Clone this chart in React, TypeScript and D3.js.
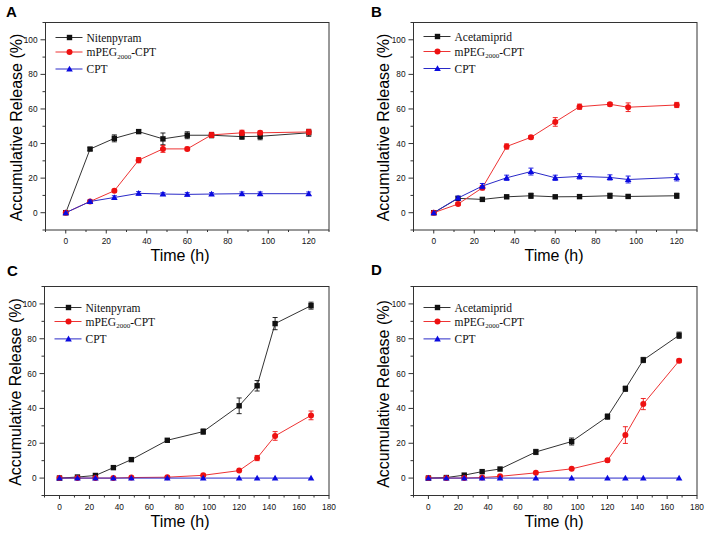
import React from "react";
import * as d3 from "d3";

// ---------- DATA ----------
const timesAB = [0, 12, 24, 36, 48, 60, 72, 87, 96, 120];
const timesCD = [0, 12, 24, 36, 48, 72, 96, 120, 132, 144, 168];

const nitenA = [0, 36.8, 43, 46.9, 42.7, 44.8, 44.8, 44, 44.2, 46.2];
const nitenAErr = [0, 0.8, 2, 1, 3.4, 2, 1.5, 1.5, 2, 2];
const mpegA = [0, 6.5, 12.7, 30.4, 36.9, 36.9, 45, 46.2, 46.2, 46.7];
const mpegAErr = [0, 0.5, 0.8, 1.5, 2, 1, 1.5, 1.5, 1, 1.5];
const cptA = [0, 6.5, 8.8, 11.2, 10.8, 10.6, 10.8, 11, 11, 11];
const cptAErr = [0, 0.8, 1, 1, 0.8, 1, 0.8, 1, 1, 1];

const acetB = [0, 8.3, 7.7, 9.2, 9.8, 9.2, 9.3, 9.8, 9.4, 9.8];
const acetBErr = [0, 0.5, 0.5, 0.8, 1.5, 0.8, 0.8, 1.5, 0.8, 1.5];
const mpegB = [0, 5, 14.4, 38.3, 43.6, 52.5, 61.3, 62.7, 61, 62.3];
const mpegBErr = [0, 0.8, 1.2, 1.5, 1, 2.5, 1.5, 1, 2.5, 1.5];
const cptB = [0, 8.5, 15.4, 20.2, 23.8, 20.2, 21, 20.4, 19.2, 20.4];
const cptBErr = [0, 1, 1.5, 1.5, 2, 1.5, 1.5, 1.5, 2, 2];

const nitenC = [0, 0.6, 1.5, 6, 10.6, 21.7, 26.7, 41.5, 53, 88.7, 99];
const nitenCErr = [0, 0.3, 0.5, 0.5, 0.5, 0.5, 1.5, 4.5, 3, 3.5, 2];
const mpegC = [0, 0, 0, 0, 0.3, 0.5, 1.6, 4.3, 11.5, 24.2, 36];
const mpegCErr = [0, 0, 0, 0, 0.3, 0.3, 0.5, 0.5, 1.5, 2.5, 2.5];
const cptC = [0, 0, 0, 0, 0, 0, 0, 0, 0, 0, 0];
const cptCErr = [0, 0, 0, 0, 0, 0, 0, 0, 0, 0, 0];

const acetD = [0, 0.3, 1.7, 3.7, 5.2, 15, 21, 35.3, 51.3, 67.8, 82];
const acetDErr = [0, 0.3, 0.5, 0.5, 0.5, 1.5, 2, 1.5, 1.5, 1.5, 1.8];
const mpegD = [0, 0, 0, 0.3, 1, 3, 5.3, 10.2, 24.7, 42.5, 67.3];
const mpegDErr = [0, 0, 0, 0, 0.3, 0.5, 0.5, 1, 4.8, 3.2, 1];
const cptD = [0, 0, 0, 0, 0, 0, 0, 0, 0, 0, 0];
const cptDErr = [0, 0, 0, 0, 0, 0, 0, 0, 0, 0, 0];

const xTicksAB = [0, 20, 40, 60, 80, 100, 120];
const xTicksCD = [0, 20, 40, 60, 80, 100, 120, 140, 160, 180];
const yTicks = [0, 20, 40, 60, 80, 100];
const panelLetters = ["A", "B", "C", "D"];
const xTitle = "Time (h)";
const yTitle = "Accumulative Release (%)";

// ---------- STYLE ----------
const BLACK = "#111111";
const BLACK_LINE = "#333333";
const RED = "#ee1111";
const RED_LINE = "#ee3333";
const BLUE = "#0a0ae0";
const BLUE_LINE = "#2a2ac8";

type Series = { name: string; sub?: boolean; vals: number[]; errs: number[]; kind: "sq" | "ci" | "tri"; color: string; line: string };

type PanelCfg = {
  letter: string;
  left: number; right: number; top: number; bottom: number;
  xMax: number; xTicks: number[]; times: number[];
  series: Series[];
  legendRows: number[];
  letterX: number; letterY: number;
  xTitleX: number; yTitleX: number; yTitleY: number;
};

function mkSeries(first: string, a: number[], ae: number[], b: number[], be: number[], c: number[], ce: number[]): Series[] {
  return [
    { name: first, vals: a, errs: ae, kind: "sq", color: BLACK, line: BLACK_LINE },
    { name: "mPEG", sub: true, vals: b, errs: be, kind: "ci", color: RED, line: RED_LINE },
    { name: "CPT", vals: c, errs: ce, kind: "tri", color: BLUE, line: BLUE_LINE },
  ];
}

const panels: PanelCfg[] = [
  {
    letter: panelLetters[0], left: 45.5, right: 329, top: 22.5, bottom: 230, xMax: 130, xTicks: xTicksAB, times: timesAB,
    series: mkSeries("Nitenpyram", nitenA, nitenAErr, mpegA, mpegAErr, cptA, cptAErr),
    legendRows: [15, 29.5, 46.5], letterX: 6, letterY: 17, xTitleX: 180, yTitleX: 21.5, yTitleY: 127.5,
  },
  {
    letter: panelLetters[1], left: 413.5, right: 697, top: 22.5, bottom: 230, xMax: 130, xTicks: xTicksAB, times: timesAB,
    series: mkSeries("Acetamiprid", acetB, acetBErr, mpegB, mpegBErr, cptB, cptBErr),
    legendRows: [14, 29, 46], letterX: 371, letterY: 17, xTitleX: 554, yTitleX: 389, yTitleY: 127.5,
  },
  {
    letter: panelLetters[2], left: 44.5, right: 329, top: 286.5, bottom: 495.5, xMax: 180, xTicks: xTicksCD, times: timesCD,
    series: mkSeries("Nitenpyram", nitenC, nitenCErr, mpegC, mpegCErr, cptC, cptCErr),
    legendRows: [21, 35, 52.4], letterX: 7, letterY: 276, xTitleX: 180, yTitleX: 20.5, yTitleY: 392,
  },
  {
    letter: panelLetters[3], left: 413.5, right: 697, top: 286.5, bottom: 495.5, xMax: 180, xTicks: xTicksCD, times: timesCD,
    series: mkSeries("Acetamiprid", acetD, acetDErr, mpegD, mpegDErr, cptD, cptDErr),
    legendRows: [21, 35, 52.4], letterX: 371, letterY: 275, xTitleX: 554, yTitleX: 389, yTitleY: 394,
  },
];

function Marker({ kind, x, y, color }: { kind: string; x: number; y: number; color: string }) {
  if (kind === "sq") return <rect x={x - 2.7} y={y - 2.7} width={5.4} height={5.4} fill={color} />;
  if (kind === "ci") return <circle cx={x} cy={y} r={3} fill={color} />;
  const s = 3.3;
  return <path d={`M${x},${y - s}L${x + s},${y + s * 0.75}L${x - s},${y + s * 0.75}Z`} fill={color} />;
}

function Panel({ p }: { p: PanelCfg }) {
  const x = d3.scaleLinear().domain([-10, p.xMax]).range([p.left, p.right]);
  const y = d3.scaleLinear().domain([-10, 110]).range([p.bottom, p.top]);
  const xMinor = d3.range(-10, p.xMax + 0.1, 10);
  const yMinor = d3.range(-10, 110.1, 10);
  const line = d3.line<[number, number]>().x((d) => x(d[0])).y((d) => y(d[1]));
  const tickFont = "'Liberation Sans', Arial, sans-serif";
  return (
    <g>
      <text x={p.letterX} y={p.letterY} fontFamily={tickFont} fontWeight="bold" fontSize={15} fill="#000">{p.letter}</text>
      {/* series */}
      {p.series.map((s, si) => {
        const pts: [number, number][] = p.times.map((t, i) => [t, s.vals[i]]);
        return (
          <g key={si}>
            <path d={line(pts) || ""} fill="none" stroke={s.line} strokeWidth={1} />
            {pts.map((d, i) =>
              s.errs[i] > 0.6 ? (
                <g key={"e" + i} stroke={s.color} strokeWidth={0.9}>
                  <line x1={x(d[0])} x2={x(d[0])} y1={y(d[1] - s.errs[i])} y2={y(d[1] + s.errs[i])} />
                  <line x1={x(d[0]) - 2.5} x2={x(d[0]) + 2.5} y1={y(d[1] - s.errs[i])} y2={y(d[1] - s.errs[i])} />
                  <line x1={x(d[0]) - 2.5} x2={x(d[0]) + 2.5} y1={y(d[1] + s.errs[i])} y2={y(d[1] + s.errs[i])} />
                </g>
              ) : null
            )}
            {pts.map((d, i) => <Marker key={"m" + i} kind={s.kind} x={x(d[0])} y={y(d[1])} color={s.color} />)}
          </g>
        );
      })}
      {/* frame */}
      <rect x={p.left} y={p.top} width={p.right - p.left} height={p.bottom - p.top} fill="none" stroke="#333" strokeWidth={1} />
      {/* x ticks */}
      {xMinor.map((v) => {
        const major = v >= 0 && v % 20 === 0;
        return <line key={"xt" + v} x1={x(v)} x2={x(v)} y1={p.bottom} y2={p.bottom + (major ? 3.5 : 2)} stroke="#333" strokeWidth={1} />;
      })}
      {p.xTicks.map((v) => (
        <text key={"xl" + v} x={x(v)} y={p.bottom + 14} textAnchor="middle" fontFamily={tickFont} fontSize={8.3} fill="#111">{v}</text>
      ))}
      {/* y ticks */}
      {yMinor.map((v) => {
        const major = v >= 0 && v % 20 === 0;
        return <line key={"yt" + v} x1={p.left} x2={p.left - (major ? 5 : 3)} y1={y(v)} y2={y(v)} stroke="#333" strokeWidth={1} />;
      })}
      {yTicks.map((v) => (
        <text key={"yl" + v} x={p.left - 8} y={y(v) + 3} textAnchor="end" fontFamily={tickFont} fontSize={8.3} fill="#111">{v}</text>
      ))}
      {/* axis titles */}
      <text x={p.xTitleX} y={p.bottom + 31} textAnchor="middle" fontFamily={tickFont} fontSize={16} fill="#000">{xTitle}</text>
      <text transform={`translate(${p.yTitleX},${p.yTitleY}) rotate(-90)`} textAnchor="middle" fontFamily={tickFont} fontSize={16} fill="#000">{yTitle}</text>
      {/* legend */}
      {p.series.map((s, i) => {
        const ly = p.top + p.legendRows[i];
        const lx0 = p.left + 10;
        const lx1 = p.left + 37;
        const mx = p.left + 24;
        return (
          <g key={"lg" + i}>
            <line x1={lx0} x2={lx1} y1={ly} y2={ly} stroke={s.line} strokeWidth={1} />
            <Marker kind={s.kind} x={mx} y={ly} color={s.color} />
            <text x={p.left + 41} y={ly + 4} fontFamily="'Liberation Serif', 'Times New Roman', serif" fontSize={11.5} fill="#111">
              {s.sub ? (
                <>
                  {"mPEG"}
                  <tspan fontSize={7} dy={2.5}>2000</tspan>
                  <tspan dy={-2.5}>-CPT</tspan>
                </>
              ) : s.name}
            </text>
          </g>
        );
      })}
    </g>
  );
}

export default function App() {
  return (
    <svg width={709} height={536} style={{ position: "absolute", left: 0, top: 0, background: "#fff" }}>
      <rect x={0} y={0} width={709} height={536} fill="#fff" />
      {panels.map((p) => <Panel key={p.letter} p={p} />)}
    </svg>
  );
}
